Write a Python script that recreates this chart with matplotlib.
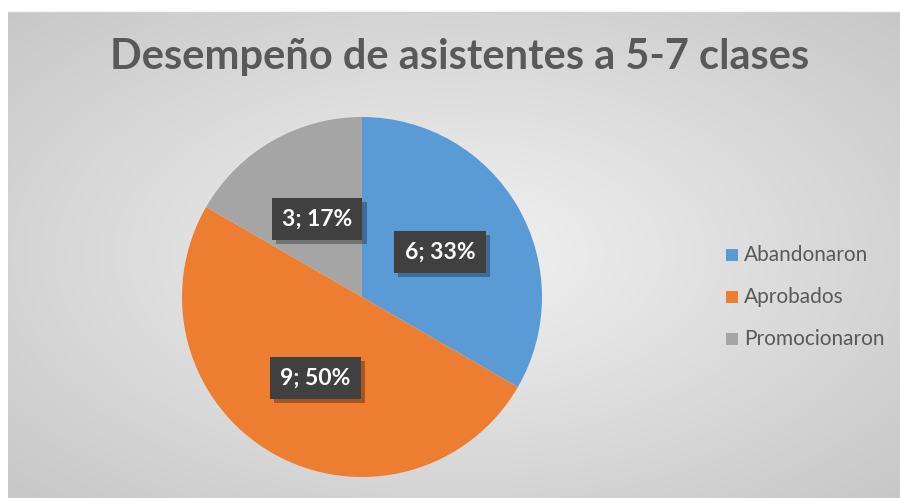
import numpy as np
import matplotlib
matplotlib.use("Agg")
import matplotlib.pyplot as plt
from matplotlib import patheffects as pe

categories = ["Abandonaron", "Aprobados", "Promocionaron"]
values = [6, 9, 3]
colors = ["#5B9BD5", "#ED7D31", "#A5A5A5"]
title = "Desempeño de asistentes a 5-7 clases"

W, H = 900, 498
fig = plt.figure(figsize=(W / 100, H / 100), dpi=100)
fig.patch.set_facecolor("white")

# chart area background with radial gradient
x0, y0 = 8 / W, 0
bg = fig.add_axes([x0, y0, 1 - x0, 1 - 12 / H])
bg.set_axis_off()
yy, xx = np.mgrid[0:1:300j, 0:1:500j]
r = np.sqrt(((xx - 0.5) / 0.75) ** 2 + ((yy - 0.5) / 0.75) ** 2)
r = np.clip(r / 0.95, 0, 1)
c_in = np.array([0.95, 0.95, 0.95])
c_out = np.array([0.78, 0.78, 0.78])
img = c_in[None, None, :] * (1 - r[..., None]) + c_out[None, None, :] * r[..., None]
bg.imshow(img, extent=[0, 1, 0, 1], aspect="auto", origin="lower")
bg.set_xlim(0, 1)
bg.set_ylim(0, 1)
bg.plot([0, 1], [1, 1], color="#d0d0d0", lw=1, transform=bg.transAxes, clip_on=False)

# pie
R = 180
cx, cy = 362, 297
ax = fig.add_axes([(cx - R) / W, (H - cy - R) / H, 2 * R / W, 2 * R / H])
ax.set_axis_off()
total = sum(values)
wedges, _ = ax.pie(values, colors=colors, startangle=90, counterclock=False,
                   radius=1.0, wedgeprops=dict(linewidth=0))
ax.set_xlim(-1, 1)
ax.set_ylim(-1, 1)
ax.set_aspect("equal")

label_r = [0.5, 0.52, 0.5]
start = 90
for v, lr in zip(values, label_r):
    ang = start - 360 * v / total / 2
    start -= 360 * v / total
    x = lr * np.cos(np.radians(ang))
    y = lr * np.sin(np.radians(ang))
    txt = f"{v}; {round(100 * v / total)}%"
    t = ax.text(x, y, txt, ha="center", va="center", fontsize=16.5,
                fontweight="bold", family="Lato", color="white",
                bbox=dict(boxstyle="square,pad=0.45", fc="#404040", ec="none"))
    t.get_bbox_patch().set_path_effects([
        pe.SimplePatchShadow(offset=(3, -3), shadow_rgbFace="black", alpha=0.3),
        pe.Normal()])

fig.text(460 / W, 1 - 57 / H, title, ha="center", va="center", fontsize=30,
         fontweight="bold", family="Lato", color="#595959")

# legend
ys = [255, 297, 339]
for cat, col, yv in zip(categories, colors, ys):
    fig.patches.append(plt.Rectangle(((726) / W, 1 - (yv + 6) / H), 12 / W, 12 / H,
                                     transform=fig.transFigure, fc=col, ec="none"))
    fig.text(744 / W, 1 - yv / H, cat, ha="left", va="center", fontsize=15,
             family="Lato", color="#595959")

fig.savefig("out.png", dpi=100)
